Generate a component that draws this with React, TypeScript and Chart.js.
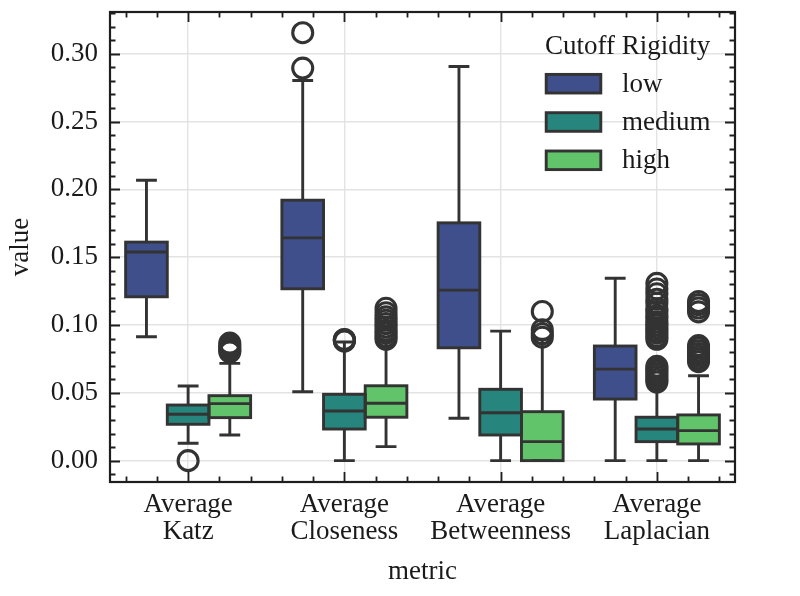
import React, { useEffect, useRef } from 'react';
import { Chart, registerables } from 'chart.js';

Chart.register(...registerables);

// ---------- data ----------
const METRICS = [
  ['Average', 'Katz'],
  ['Average', 'Closeness'],
  ['Average', 'Betweenness'],
  ['Average', 'Laplacian'],
];
const GROUPS = ['low', 'medium', 'high'];
const COLORS = ['#3f4f8b', '#26857d', '#62c46a'];
const Y_TICKS = [0, 0.05, 0.1, 0.15, 0.2, 0.25, 0.3];
const Y_MIN = -0.01575;
const Y_MAX = 0.33075;

const LOW_WHISKER_LO = [0.0913, 0.0508, 0.0312, 0.0];
const LOW_Q1 = [0.1208, 0.1267, 0.0832, 0.0454];
const LOW_MEDIAN = [0.1538, 0.1642, 0.1257, 0.0675];
const LOW_Q3 = [0.1611, 0.192, 0.1753, 0.0845];
const LOW_WHISKER_HI = [0.2067, 0.2803, 0.2906, 0.1345];
const LOW_OUTLIERS = [[], [0.2894, 0.3155], [], []];

const MEDIUM_WHISKER_LO = [0.0128, 0.0, 0.0, 0.0];
const MEDIUM_Q1 = [0.0268, 0.0233, 0.0189, 0.014];
const MEDIUM_MEDIAN = [0.0342, 0.0366, 0.0353, 0.0233];
const MEDIUM_Q3 = [0.041, 0.0489, 0.0526, 0.032];
const MEDIUM_WHISKER_HI = [0.055, 0.0875, 0.0955, 0.0565];
const MEDIUM_OUTLIERS = [
  [0.0],
  [0.0882, 0.0886, 0.089, 0.0893],
  [],
  [0.058, 0.06, 0.062, 0.064, 0.066, 0.068, 0.0695,
   0.0895, 0.0915, 0.094, 0.096, 0.098, 0.1, 0.102, 0.105, 0.107, 0.11, 0.112, 0.116, 0.119, 0.123, 0.1265, 0.1307],
];

const HIGH_WHISKER_LO = [0.0189, 0.0103, 0.0, 0.0];
const HIGH_Q1 = [0.0317, 0.032, 0.0, 0.0123];
const HIGH_MEDIAN = [0.042, 0.0423, 0.014, 0.0221];
const HIGH_Q3 = [0.0479, 0.0552, 0.0361, 0.0337];
const HIGH_WHISKER_HI = [0.0717, 0.089, 0.0895, 0.0626];
const HIGH_OUTLIERS = [
  [0.0802, 0.0815, 0.083, 0.0848, 0.0866],
  [0.0895, 0.0915, 0.094, 0.096, 0.0985, 0.101, 0.1035, 0.106, 0.109, 0.1123],
  [0.091, 0.0935, 0.0965, 0.11],
  [0.073, 0.075, 0.077, 0.079, 0.081, 0.083, 0.0848, 0.1097, 0.1125, 0.115, 0.1173],
];

const STATS = [
  { lo: LOW_WHISKER_LO, q1: LOW_Q1, med: LOW_MEDIAN, q3: LOW_Q3, hi: LOW_WHISKER_HI, out: LOW_OUTLIERS },
  { lo: MEDIUM_WHISKER_LO, q1: MEDIUM_Q1, med: MEDIUM_MEDIAN, q3: MEDIUM_Q3, hi: MEDIUM_WHISKER_HI, out: MEDIUM_OUTLIERS },
  { lo: HIGH_WHISKER_LO, q1: HIGH_Q1, med: HIGH_MEDIAN, q3: HIGH_Q3, hi: HIGH_WHISKER_HI, out: HIGH_OUTLIERS },
];

// ---------- style ----------
const FONT = "'Liberation Serif', 'Times New Roman', serif";
const FS = 27;
const TEXT = '#1a1a1a';
const EDGE = '#333333';
const LW = 2.9;

const boxPlugin = {
  id: 'boxDetails',
  afterDatasetsDraw(chart: any) {
    const ctx = chart.ctx;
    const ys = chart.scales.y;
    const py = (v: number) => ys.getPixelForValue(v);
    ctx.save();
    chart.data.datasets.forEach((_ds: any, i: number) => {
      const meta = chart.getDatasetMeta(i);
      const st = STATS[i];
      meta.data.forEach((el: any, j: number) => {
        const { x, width } = el.getProps(['x', 'width'], true);
        const half = width / 2;
        const cap = width / 4;
        ctx.strokeStyle = EDGE;
        ctx.lineWidth = LW;
        ctx.lineCap = 'butt';
        ctx.beginPath();
        ctx.moveTo(x, py(st.q3[j]));
        ctx.lineTo(x, py(st.hi[j]));
        ctx.moveTo(x, py(st.q1[j]));
        ctx.lineTo(x, py(st.lo[j]));
        ctx.moveTo(x - cap, py(st.hi[j]));
        ctx.lineTo(x + cap, py(st.hi[j]));
        ctx.moveTo(x - cap, py(st.lo[j]));
        ctx.lineTo(x + cap, py(st.lo[j]));
        ctx.stroke();
        // box outline
        const top = py(st.q3[j]);
        const bot = py(st.q1[j]);
        ctx.strokeRect(x - half, top, width, bot - top);
        // median
        ctx.beginPath();
        ctx.moveTo(x - half, py(st.med[j]));
        ctx.lineTo(x + half, py(st.med[j]));
        ctx.stroke();
        // outliers
        ctx.lineWidth = 3.1;
        st.out[j].forEach((v: number) => {
          ctx.beginPath();
          ctx.arc(x, py(v), 10, 0, Math.PI * 2);
          ctx.stroke();
        });
      });
    });
    ctx.restore();
  },
};

const framePlugin = {
  id: 'frameTicks',
  afterDraw(chart: any) {
    const ctx = chart.ctx;
    const { left, right, top, bottom } = chart.chartArea;
    const xs = chart.scales.x;
    const ys = chart.scales.y;
    ctx.save();
    ctx.strokeStyle = '#1e1e1e';
    ctx.lineWidth = 1.8;
    ctx.beginPath();
    const MAJ = 10;
    const MIN = 5.5;
    // y ticks
    for (let k = -1; k <= 33; k++) {
      const v = k / 100;
      if (v < Y_MIN || v > Y_MAX) continue;
      const p = Math.round(ys.getPixelForValue(v)) + 0.5;
      const len = k % 5 === 0 ? MAJ : MIN;
      ctx.moveTo(left, p);
      ctx.lineTo(left + len, p);
      ctx.moveTo(right, p);
      ctx.lineTo(right - len, p);
    }
    // x ticks
    for (let k = -2; k <= 17; k++) {
      const v = k / 5;
      const p = Math.round(xs.getPixelForValue(v)) + 0.5;
      const len = k % 5 === 0 ? MAJ : MIN;
      ctx.moveTo(p, bottom);
      ctx.lineTo(p, bottom - len);
      ctx.moveTo(p, top);
      ctx.lineTo(p, top + len);
    }
    ctx.stroke();
    ctx.lineWidth = 2.2;
    ctx.strokeRect(left, top, right - left, bottom - top);

    // legend
    ctx.fillStyle = TEXT;
    ctx.font = `${FS}px ${FONT}`;
    ctx.textAlign = 'left';
    ctx.textBaseline = 'alphabetic';
    const lx = right - 190;
    ctx.fillText('Cutoff Rigidity', lx, top + 42);
    chart.data.datasets.forEach((ds: any, i: number) => {
      const cy = top + 71.7 + i * 38.3;
      ctx.fillStyle = ds.backgroundColor;
      ctx.fillRect(lx + 1.2, cy - 9.3, 54.6, 18.6);
      ctx.strokeStyle = EDGE;
      ctx.lineWidth = LW;
      ctx.strokeRect(lx + 1.2, cy - 9.3, 54.6, 18.6);
      ctx.fillStyle = TEXT;
      ctx.textBaseline = 'middle';
      ctx.fillText(ds.label, lx + 77, cy + 1);
      ctx.textBaseline = 'alphabetic';
    });
    ctx.restore();
  },
};

export default function App() {
  const ref = useRef<HTMLCanvasElement | null>(null);
  useEffect(() => {
    if (!ref.current) return;
    const chart = new Chart(ref.current, {
      type: 'bar',
      data: {
        labels: METRICS,
        datasets: GROUPS.map((g, i) => ({
          label: g,
          data: STATS[i].q1.map((q: number, j: number) => [q, STATS[i].q3[j]]),
          backgroundColor: COLORS[i],
          borderWidth: 0,
          categoryPercentage: 0.8,
          barPercentage: 1.0,
        })),
      },
      options: {
        responsive: false,
        animation: false,
        devicePixelRatio: 1,
        events: [],
        layout: { padding: { left: 0, top: 12, right: 65, bottom: 0 } },
        plugins: {
          legend: { display: false },
          tooltip: { enabled: false },
        },
        scales: {
          x: {
            type: 'category',
            offset: true,
            grid: { display: true, offset: false, drawTicks: false, color: '#e3e3e3', lineWidth: 1.4 },
            border: { display: false },
            ticks: {
              font: { family: FONT, size: FS, lineHeight: 0.99 },
              color: TEXT,
              padding: 10,
              maxRotation: 0,
              autoSkip: false,
            },
            title: {
              display: true,
              text: 'metric',
              color: TEXT,
              font: { family: FONT, size: FS },
              padding: { top: 0, bottom: 8 },
            },
            afterFit: (s: any) => {
              s.height = 114;
              s.paddingLeft = 0;
              s.paddingRight = 0;
            },
          },
          y: {
            type: 'linear',
            min: Y_MIN,
            max: Y_MAX,
            grid: { display: true, drawTicks: false, color: '#e3e3e3', lineWidth: 1.4 },
            border: { display: false },
            afterBuildTicks: (s: any) => {
              s.ticks = Y_TICKS.map((v) => ({ value: v }));
            },
            ticks: {
              font: { family: FONT, size: FS },
              color: TEXT,
              padding: 12,
              callback: (v: any) => Number(v).toFixed(2),
            },
            title: {
              display: true,
              text: 'value',
              color: TEXT,
              font: { family: FONT, size: FS },
              padding: { top: 5, bottom: 0 },
            },
            afterFit: (s: any) => {
              s.width = 110;
              s.paddingTop = 0;
              s.paddingBottom = 0;
            },
          },
        },
      },
      plugins: [boxPlugin, framePlugin],
    } as any);
    return () => chart.destroy();
  }, []);
  return (
    <div style={{ position: 'absolute', left: 0, top: 0, width: 800, height: 596, background: '#fff' }}>
      <canvas ref={ref} width={800} height={596} style={{ display: 'block' }} />
    </div>
  );
}
